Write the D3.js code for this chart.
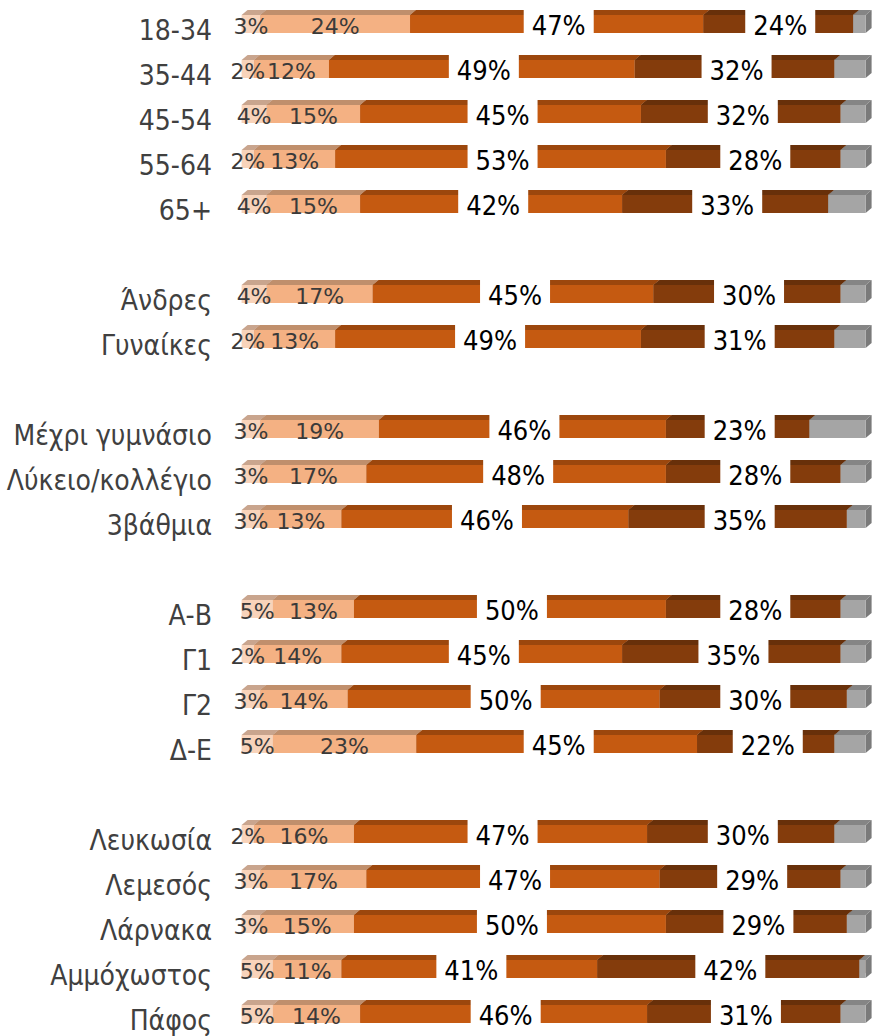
<!DOCTYPE html>
<html>
<head>
<meta charset="utf-8">
<script src="https://cdn.jsdelivr.net/npm/d3@7"></script>
<style>
  body { margin: 0; background: #fff; }
  text { font-family: "DejaVu Sans Condensed", "DejaVu Sans", sans-serif; font-stretch: condensed; }
  text.small { font-family: "DejaVu Sans", sans-serif; font-stretch: normal; }
</style>
</head>
<body>
<script>
var categories = ["18-34", "35-44", "45-54", "55-64", "65+",
  "Άνδρες", "Γυναίκες",
  "Μέχρι γυμνάσιο", "Λύκειο/κολλέγιο", "3βάθμια",
  "Α-Β", "Γ1", "Γ2", "Δ-Ε",
  "Λευκωσία", "Λεμεσός", "Λάρνακα", "Αμμόχωστος", "Πάφος"];
// an empty row follows each of these
var gapAfter = ["65+", "Γυναίκες", "3βάθμια", "Δ-Ε"];

var s1 = [3, 2, 4, 2, 4, 4, 2, 3, 3, 3, 5, 2, 3, 5, 2, 3, 3, 5, 5];
var s2 = [24, 12, 15, 13, 15, 17, 13, 19, 17, 13, 13, 14, 14, 23, 16, 17, 15, 11, 14];
var s3 = [47, 49, 45, 53, 42, 45, 49, 46, 48, 46, 50, 45, 50, 45, 47, 47, 50, 41, 46];
var s4 = [24, 32, 32, 28, 33, 30, 31, 23, 28, 35, 28, 35, 30, 22, 30, 29, 29, 42, 31];
var s5 = [2, 5, 4, 4, 6, 4, 5, 9, 4, 3, 4, 4, 3, 5, 5, 4, 3, 1, 4];

var series = [s1, s2, s3, s4, s5];
var fronts = ["#F8D3BA", "#F4B183", "#C55A11", "#843C0C", "#A5A5A5"];
var tops = ["#C9A58E", "#C08F6C", "#9C470D", "#68300A", "#858585"];
var sides = ["#B8927A", "#B07F5E", "#8A3F0B", "#5A2908", "#7A7A7A"];

var w = 872;
var h = 1036;
var barH = 18;
var dx = 6;
var dy = 5;

var slots = [];
categories.forEach(function(c, i) {
  slots.push(c);
  if (gapAfter.indexOf(c) >= 0) slots.push("_gap" + i);
});

var x = d3.scaleLinear().domain([0, 100]).range([241.6, 865.6]);
var y = d3.scalePoint().domain(slots).range([24, 1014]);

var rows = categories.map(function(c, i) {
  var acc = 0;
  var segs = series.map(function(s, k) {
    var seg = {k: k, v: s[i], x0: acc, x1: acc + s[i]};
    acc += s[i];
    return seg;
  });
  return {name: c, segs: segs};
});

var svg = d3.select("body")
  .append("svg")
  .attr("width", w)
  .attr("height", h)
  .style("background-color", "#fff");

svg.selectAll(".cat")
  .data(categories)
  .enter()
  .append("text")
  .attr("class", "cat")
  .attr("x", 212)
  .attr("y", function(d) { return y(d) + 16; })
  .attr("text-anchor", "end")
  .attr("font-size", 28)
  .attr("fill", "#404040")
  .text(function(d) { return d; });

var row = svg.selectAll(".row")
  .data(rows)
  .enter()
  .append("g")
  .attr("class", "row")
  .attr("transform", function(d) { return "translate(0," + (y(d.name) - barH / 2) + ")"; });

var seg = row.selectAll(".seg")
  .data(function(d) { return d.segs; })
  .enter()
  .append("g")
  .attr("class", "seg");

// side face, top face, then front
seg.append("path")
  .attr("d", function(d) {
    var a = x(d.x1);
    return "M" + a + ",0L" + (a + dx) + "," + (-dy) + "L" + (a + dx) + "," + (barH - dy) + "L" + a + "," + barH + "Z";
  })
  .attr("fill", function(d) { return sides[d.k]; });

seg.append("path")
  .attr("d", function(d) {
    var a = x(d.x0), b = x(d.x1);
    return "M" + a + ",0L" + (a + dx) + "," + (-dy) + "L" + (b + dx) + "," + (-dy) + "L" + b + ",0Z";
  })
  .attr("fill", function(d) { return tops[d.k]; });

seg.append("rect")
  .attr("x", function(d) { return x(d.x0); })
  .attr("y", 0)
  .attr("width", function(d) { return x(d.x1) - x(d.x0); })
  .attr("height", barH)
  .attr("fill", function(d) { return fronts[d.k]; });

// small labels for the first two parts
row.selectAll(".small")
  .data(function(d) { return d.segs.slice(0, 2); })
  .enter()
  .append("text")
  .attr("class", "small")
  .attr("x", function(d) { return (x(d.x0) + x(d.x1)) / 2; })
  .attr("y", barH / 2 + 10)
  .attr("text-anchor", "middle")
  .attr("font-size", 22)
  .attr("fill", "#3a3a3a")
  .text(function(d) { return d.v + "%"; });

// big labels with a white box
var big = row.selectAll(".big")
  .data(function(d) { return d.segs.slice(2, 4); })
  .enter()
  .append("g")
  .attr("class", "big");

big.append("rect")
  .attr("fill", "#fff");

big.append("text")
  .attr("x", function(d) { return (x(d.x0) + x(d.x1)) / 2 + 2; })
  .attr("y", barH / 2 + 11)
  .attr("text-anchor", "middle")
  .attr("font-size", 27)
  .attr("fill", "#000")
  .text(function(d) { return d.v + "%"; });

big.each(function(d) {
  var g = d3.select(this);
  var tw = g.select("text").node().getComputedTextLength();
  var cx = (x(d.x0) + x(d.x1)) / 2 + 2;
  g.select("rect")
    .attr("x", cx - tw / 2 - 8)
    .attr("y", -dy - 2)
    .attr("width", tw + 16)
    .attr("height", barH + dy + 4);
});
</script>
</body>
</html>
